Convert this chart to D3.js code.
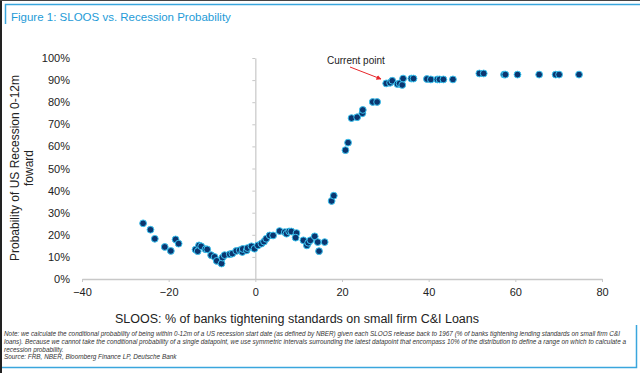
<!DOCTYPE html>
<html>
<head>
<meta charset="utf-8">
<script src="https://cdn.jsdelivr.net/npm/d3@7"></script>
<style>
  body { margin: 0; background: #fff; }
  text { font-family: Arial, "Liberation Sans", sans-serif; }
</style>
</head>
<body>
<div id="vis"></div>
<script>
var w = 640, h = 373;

// SLOOS % of banks tightening (x) and recession probability in % (y)
var sloos = [-25.9, -24.2, -23.2, -20.9, -19.5, -18.4, -17.7, -13.8, -13.0, -13.3,
             -12.5, -11.5, -11.1, -10.2, -9.4, -8.9, -7.8, -7.6, -7.1, -5.9,
             -5.3, -4.4, -3.6, -3.0, -2.9, -2.0, -1.8, -0.9, -0.2, 0.6,
             1.4, 2.0, 2.5, 3.3, 4.1, 5.6, 6.8, 7.2, 7.8, 8.3,
             9.5, 9.3, 11.1, 11.9, 12.2, 12.7, 13.7, 14.4, 16.0, 14.7,
             17.6, 18.1, 20.8, 21.4, 22.2, 23.5, 24.7, 24.8, 27.1, 28.1,
             30.2, 31.1, 31.6, 32.8, 33.3, 33.9, 34.1, 36.0, 36.5,
             39.6, 40.5, 42.0, 42.5, 43.4, 45.6,
             51.7, 52.7, 57.4, 57.7, 60.5, 65.5, 69.3, 70.1, 74.7];
var prob = [25.2, 22.3, 18.2, 14.5, 12.7, 17.9, 16.0, 13.3, 15.2, 12.6,
            14.8, 13.5, 13.4, 10.8, 10.0, 8.2, 7.0, 9.7, 10.8, 11.2,
            11.5, 12.7, 13.0, 12.2, 13.6, 13.0, 14.0, 14.8, 13.7, 15.2,
            16.0, 16.9, 18.2, 19.7, 19.7, 21.7, 21.2, 20.5, 21.5, 21.5,
            20.8, 18.7, 17.5, 15.2, 16.4, 17.5, 19.3, 16.7, 16.7, 12.6,
            35.3, 37.7, 58.3, 61.7, 72.8, 73.2, 75.0, 76.5, 80.1, 80.1,
            88.5, 88.8, 89.7, 88.2, 88.5, 87.8, 90.7, 90.7, 90.7,
            90.5, 90.3, 90.3, 90.3, 90.3, 90.3,
            93.0, 93.0, 92.5, 92.5, 92.5, 92.5, 92.5, 92.5, 92.5];

var xTicks = [-40, -20, 0, 20, 40, 60, 80];
var yTicks = [0, 10, 20, 30, 40, 50, 60, 70, 80, 90, 100];

var notes = ["Note: we calculate the conditional probability of being within 0-12m of a US recession start date (as defined by NBER) given each SLOOS release back to 1967 (% of banks tightening lending standards on small firm C&I",
             "loans). Because we cannot take the conditional probability of a single datapoint, we use symmetric intervals surrounding the latest datapoint that encompass 10% of the distribution to define a range on which to calculate a",
             "recession probability.",
             "Source: FRB, NBER, Bloomberg Finance LP, Deutsche Bank"];

var points = sloos.map(function(d, i){ return {x: d, y: prob[i]}; });

var x = d3.scaleLinear().domain([-40, 80]).range([82, 602]);
var y = d3.scaleLinear().domain([0, 100]).range([279, 58]);

var svg = d3.select("#vis").append("svg")
    .attr("width", w)
    .attr("height", h);

// frame bits
svg.append("rect").attr("x", 0).attr("y", 0).attr("width", 2).attr("height", h).attr("fill", "#222");
svg.append("rect").attr("x", 0).attr("y", 0).attr("width", w).attr("height", 1).attr("fill", "#444");
svg.append("path").attr("d", "M5.5,24V4.5H640").attr("fill", "none").attr("stroke", "#3aa6dd").attr("stroke-width", 1.5);
svg.append("path").attr("d", "M2,367.5H636.5V325").attr("fill", "none").attr("stroke", "#3aa6dd").attr("stroke-width", 1.5);

svg.append("text")
    .attr("x", 11).attr("y", 21)
    .attr("fill", "#1e9bd7")
    .style("font-size", "11.5px")
    .text("Figure 1: SLOOS vs. Recession Probability");

// x axis along 0%
var xAxis = svg.append("g")
    .attr("transform", "translate(0," + y(0) + ")")
    .call(d3.axisBottom(x).tickValues(xTicks).tickSize(3).tickSizeOuter(0).tickPadding(6));
xAxis.select(".domain").attr("stroke", "#c8c8c8").attr("stroke-width", 1.5);
xAxis.selectAll(".tick line").attr("stroke", "#c8c8c8");
xAxis.selectAll("text").attr("fill", "#222").style("font-size", "11px");

// y axis line at x = 0
var yAxis = svg.append("g")
    .attr("transform", "translate(" + x(0) + ",0)")
    .call(d3.axisLeft(y).tickValues(yTicks).tickSize(3).tickSizeOuter(0).tickFormat(""));
yAxis.select(".domain").attr("stroke", "#c8c8c8").attr("stroke-width", 1.2);
yAxis.selectAll(".tick line").attr("stroke", "#c8c8c8");

// y tick labels on the left
var yLab = svg.append("g")
    .attr("transform", "translate(70,0)")
    .call(d3.axisLeft(y).tickValues(yTicks).tickSize(0).tickPadding(0)
          .tickFormat(function(d){ return d + "%"; }));
yLab.select(".domain").remove();
yLab.selectAll("text").attr("fill", "#222").style("font-size", "11px");

// axis titles
svg.append("text")
    .attr("x", 297).attr("y", 323)
    .attr("text-anchor", "middle")
    .attr("fill", "#222")
    .style("font-size", "12.5px")
    .text("SLOOS: % of banks tightening standards on small firm C&I Loans");

var yt = svg.append("text")
    .attr("transform", "translate(19,168) rotate(-90)")
    .attr("text-anchor", "middle")
    .attr("fill", "#222")
    .style("font-size", "12px");
yt.append("tspan").attr("x", 0).attr("y", 0).text("Probability of US Recession 0-12m");
yt.append("tspan").attr("x", 0).attr("y", 14).text("foward");

// dots
svg.selectAll("circle")
    .data(points)
    .enter()
    .append("circle")
    .attr("cx", function(d){ return x(d.x); })
    .attr("cy", function(d){ return y(d.y); })
    .attr("r", 3.4)
    .attr("fill", "#0b3670")
    .attr("stroke", "#3cc4f0")
    .attr("stroke-width", 1);

// annotation
svg.append("defs").append("marker")
    .attr("id", "arr")
    .attr("viewBox", "0 0 10 10")
    .attr("refX", 9).attr("refY", 5)
    .attr("markerWidth", 5).attr("markerHeight", 5)
    .attr("orient", "auto")
    .append("path").attr("d", "M0,0L10,5L0,10z").attr("fill", "#e8262a");

svg.append("line")
    .attr("x1", 350).attr("y1", 67)
    .attr("x2", 381).attr("y2", 79)
    .attr("stroke", "#e8262a")
    .attr("stroke-width", 1)
    .attr("marker-end", "url(#arr)");

svg.append("text")
    .attr("x", 327).attr("y", 64)
    .attr("fill", "#222")
    .style("font-size", "10px")
    .text("Current point");

// notes
var noteLen = [616, 622, null, null];
svg.selectAll(".note")
    .data(notes)
    .enter()
    .append("text")
    .attr("class", "note")
    .attr("x", 4)
    .attr("y", function(d, i){ return 336 + i * 7.8; })
    .attr("fill", "#333")
    .style("font-size", "6.4px")
    .style("font-style", "italic")
    .each(function(d, i){
        if (noteLen[i]) d3.select(this).attr("textLength", noteLen[i]).attr("lengthAdjust", "spacingAndGlyphs");
    })
    .text(function(d){ return d; });
</script>
</body>
</html>
